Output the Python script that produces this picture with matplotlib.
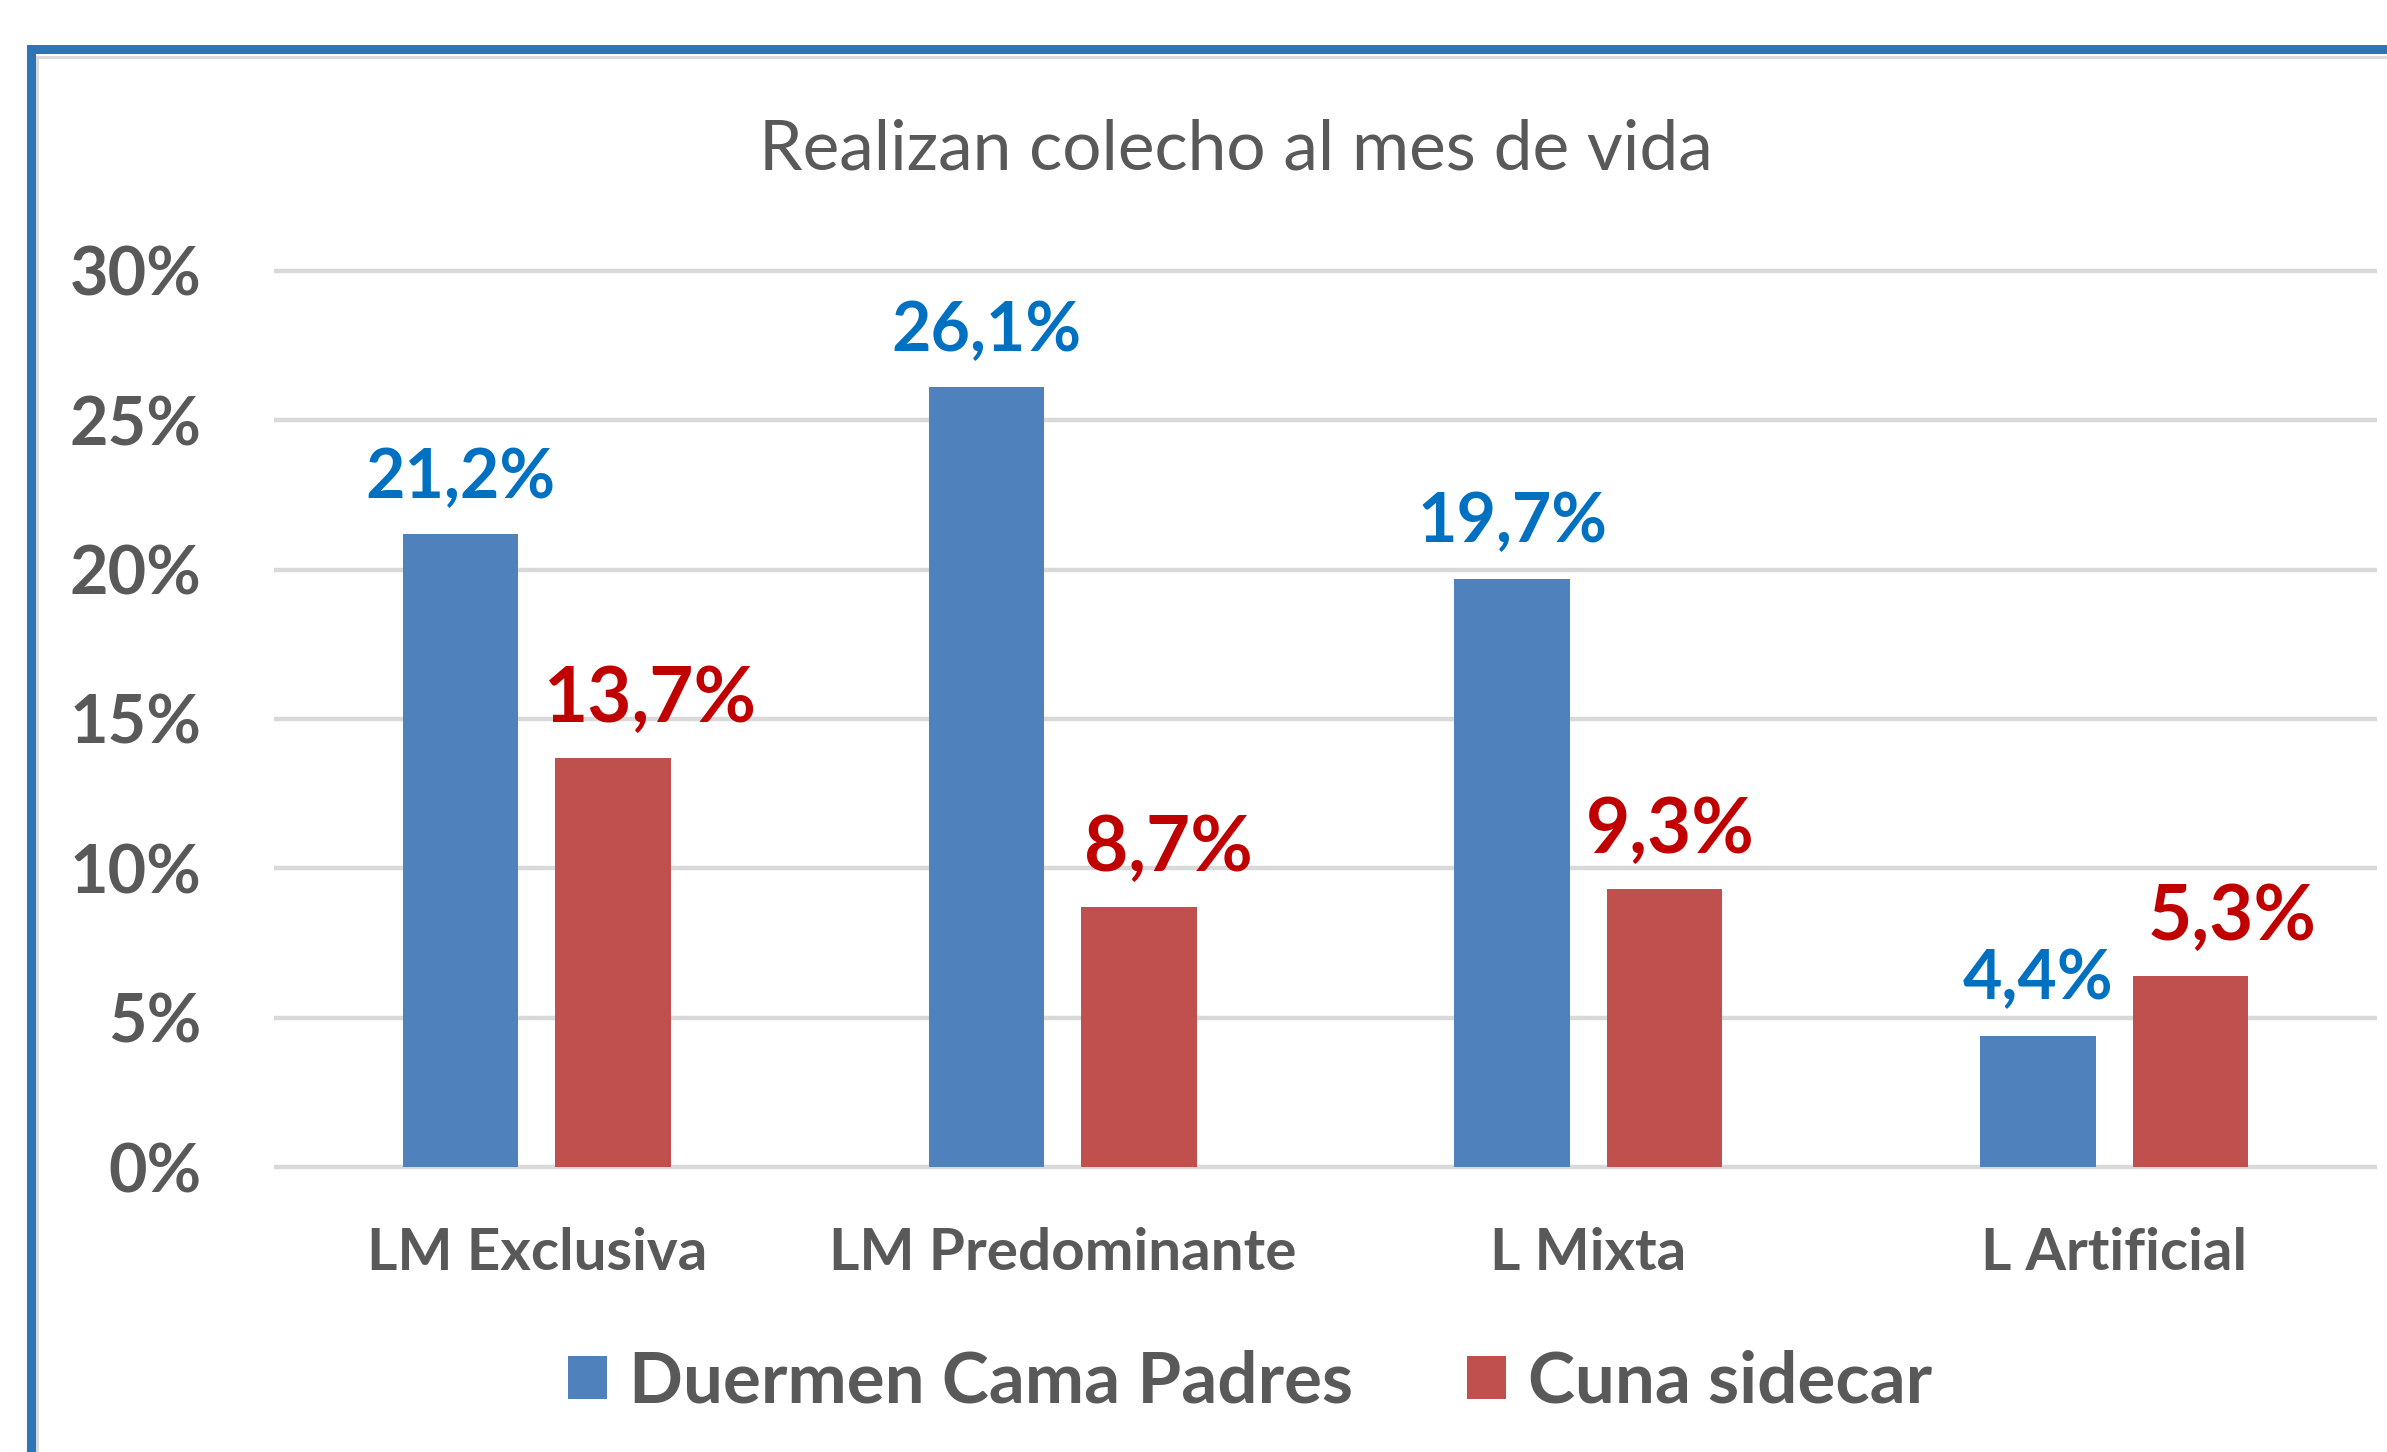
import matplotlib.pyplot as plt
from matplotlib.patches import Rectangle
from matplotlib.lines import Line2D
import numpy as np

plt.rcParams['font.family'] = ['Lato', 'DejaVu Sans']

categories = ['LM Exclusiva', 'LM Predominante', 'L Mixta', 'L Artificial']
series_names = ['Duermen Cama Padres', 'Cuna sidecar']
cama_padres = [21.2, 26.1, 19.7, 4.4]
cuna_sidecar = [13.7, 8.7, 9.3, 6.4]  # bar heights as drawn
cama_labels = ['21,2%', '26,1%', '19,7%', '4,4%']
cuna_labels = ['13,7%', '8,7%', '9,3%', '5,3%']
cuna_label_shift = [27, 21, 4, 30]  # points, labels sit right of bars
yticks = [0, 5, 10, 15, 20, 25, 30]

BLUE = '#4F81BD'
RED = '#C0504D'
LBL_BLUE = '#0070C0'
LBL_RED = '#C00000'
GREY = '#595959'
GRID = '#D9D9D9'

W, H = 2387, 1452
fig = plt.figure(figsize=(W / 100, H / 100), dpi=100)

# blue frame of the chart, running off the right and bottom edges
fig.patches.append(Rectangle((31 / W, -0.1), 1.2, 1 - 49 / H + 0.1,
                             transform=fig.transFigure, fill=False,
                             edgecolor='#2E75B6', linewidth=6.5))
fig.lines.append(Line2D([37 / W, 1.0], [1 - 57 / H] * 2, transform=fig.transFigure,
                        color='#D9D9D9', linewidth=2))
fig.lines.append(Line2D([37 / W] * 2, [0, 1 - 57 / H], transform=fig.transFigure,
                        color='#D9D9D9', linewidth=2))

ax = fig.add_axes([274 / W, 1 - 1173 / H, 2103 / W, 911 / H])
x = np.arange(len(categories))
bw = 0.22
off = 0.145
ax.bar(x - off, cama_padres, bw, color=BLUE, label=series_names[0], zorder=3)
ax.bar(x + off, cuna_sidecar, bw, color=RED, label=series_names[1], zorder=3)

for i in range(len(categories)):
    ax.annotate(cama_labels[i], (x[i] - off, cama_padres[i]), xytext=(0, 26),
                textcoords='offset points', ha='center', va='baseline',
                color=LBL_BLUE, fontsize=49, fontweight='bold')
    ax.annotate(cuna_labels[i], (x[i] + off, cuna_sidecar[i]),
                xytext=(cuna_label_shift[i], 26), textcoords='offset points',
                ha='center', va='baseline', color=LBL_RED, fontsize=55,
                fontweight='bold')

ax.set_xlim(-0.5, 3.5)
ax.set_ylim(-0.2, 30.3)
ax.set_yticks(yticks)
ax.set_yticklabels([f'{v}%' for v in yticks])
ax.set_xticks(x)
ax.set_xticklabels(categories)
ax.tick_params(axis='y', length=0, pad=52, labelsize=48, labelcolor=GREY)
ax.tick_params(axis='x', length=0, pad=39, labelsize=42, labelcolor=GREY)
for lab in ax.get_xticklabels() + ax.get_yticklabels():
    lab.set_fontweight('bold')
ax.yaxis.grid(True, color=GRID, linewidth=3.2, zorder=0)
for s in ax.spines.values():
    s.set_visible(False)

fig.text(1236 / W, 1 - 150 / H, 'Realizan colecho al mes de vida', ha='center',
         va='center', fontsize=50, color=GREY)

fig.legend(loc='center', bbox_to_anchor=(1250 / W, 1 - 1382 / H), ncol=2,
           frameon=False, labelcolor=GREY, handlelength=0.55,
           handleheight=0.55, handletextpad=0.32, columnspacing=1.6,
           prop={'weight': 'bold', 'size': 51})

fig.savefig('out.png', dpi=100)
